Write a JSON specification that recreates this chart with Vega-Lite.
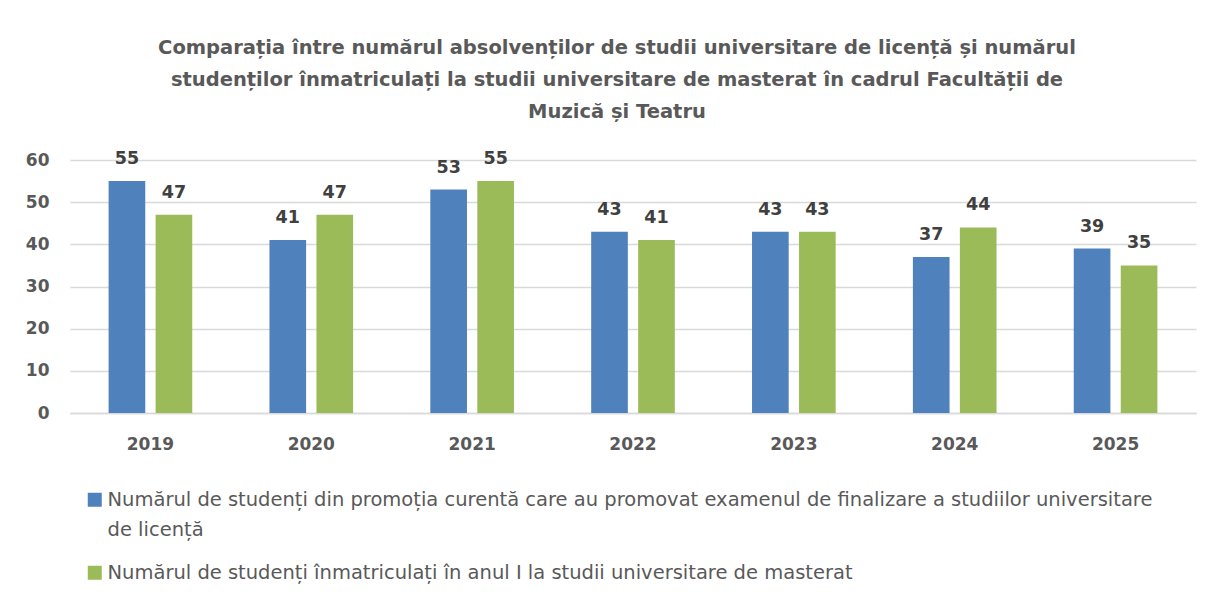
{
  "$schema": "https://vega.github.io/schema/vega-lite/v6.json",
  "width": 1126,
  "height": 253,
  "autosize": "none",
  "padding": {"left": 70, "top": 160, "right": 19, "bottom": 187},
  "background": "white",
  "title": {
    "text": ["Comparația între numărul absolvenților de studii universitare de licență și numărul", "studenților înmatriculați la studii universitare de masterat în cadrul Facultății de", "Muzică și Teatru"],
    "font": "DejaVu Sans",
    "fontSize": 19.5,
    "fontWeight": "bold",
    "color": "#595959",
    "lineHeight": 32,
    "anchor": "middle",
    "dx": -16,
    "offset": 28
  },
  "config": {
    "view": {"stroke": null},
    "font": "DejaVu Sans"
  },
  "data": {
    "values": [
      {"an": "2019", "serie": "Numărul de studenți din promoția curentă care au promovat examenul de finalizare a studiilor universitare de licență", "valoare": 55},
      {"an": "2019", "serie": "Numărul de studenți înmatriculați în anul I la studii universitare de masterat", "valoare": 47},
      {"an": "2020", "serie": "Numărul de studenți din promoția curentă care au promovat examenul de finalizare a studiilor universitare de licență", "valoare": 41},
      {"an": "2020", "serie": "Numărul de studenți înmatriculați în anul I la studii universitare de masterat", "valoare": 47},
      {"an": "2021", "serie": "Numărul de studenți din promoția curentă care au promovat examenul de finalizare a studiilor universitare de licență", "valoare": 53},
      {"an": "2021", "serie": "Numărul de studenți înmatriculați în anul I la studii universitare de masterat", "valoare": 55},
      {"an": "2022", "serie": "Numărul de studenți din promoția curentă care au promovat examenul de finalizare a studiilor universitare de licență", "valoare": 43},
      {"an": "2022", "serie": "Numărul de studenți înmatriculați în anul I la studii universitare de masterat", "valoare": 41},
      {"an": "2023", "serie": "Numărul de studenți din promoția curentă care au promovat examenul de finalizare a studiilor universitare de licență", "valoare": 43},
      {"an": "2023", "serie": "Numărul de studenți înmatriculați în anul I la studii universitare de masterat", "valoare": 43},
      {"an": "2024", "serie": "Numărul de studenți din promoția curentă care au promovat examenul de finalizare a studiilor universitare de licență", "valoare": 37},
      {"an": "2024", "serie": "Numărul de studenți înmatriculați în anul I la studii universitare de masterat", "valoare": 44},
      {"an": "2025", "serie": "Numărul de studenți din promoția curentă care au promovat examenul de finalizare a studiilor universitare de licență", "valoare": 39},
      {"an": "2025", "serie": "Numărul de studenți înmatriculați în anul I la studii universitare de masterat", "valoare": 35}
    ]
  },
  "encoding": {
    "x": {
      "field": "an",
      "type": "nominal",
      "scale": {"paddingInner": 0.48, "paddingOuter": 0.24},
      "axis": {
        "title": null,
        "labelAngle": 0,
        "labelFont": "DejaVu Sans",
        "labelFontSize": 17,
        "labelFontWeight": "bold",
        "labelColor": "#595959",
        "labelPadding": 23,
        "ticks": false,
        "domainColor": "#D9D9D9",
        "domainWidth": 1.5
      }
    },
    "y": {
      "field": "valoare",
      "type": "quantitative",
      "scale": {"domain": [0, 60]},
      "axis": {
        "title": null,
        "values": [0, 10, 20, 30, 40, 50, 60],
        "labelFont": "DejaVu Sans",
        "labelFontSize": 17,
        "labelFontWeight": "bold",
        "labelColor": "#595959",
        "labelPadding": 21,
        "ticks": false,
        "domain": false,
        "gridColor": "#D9D9D9",
        "gridWidth": 1.5
      }
    },
    "xOffset": {
      "field": "serie",
      "type": "nominal",
      "scale": {"paddingInner": 0.22, "paddingOuter": 0}
    }
  },
  "layer": [
    {
      "mark": {"type": "bar"},
      "encoding": {
        "color": {
          "field": "serie",
          "type": "nominal",
          "scale": {"range": ["#4F81BD", "#9BBB59"]},
          "legend": {
            "title": null,
            "orient": "none",
            "legendX": 15,
            "legendY": 330,
            "direction": "vertical",
            "symbolType": "square",
            "symbolSize": 196,
            "symbolStrokeWidth": 0,
            "labelFont": "DejaVu Sans",
            "labelFontSize": 19.5,
            "labelColor": "#595959",
            "labelLimit": 1200,
            "labelOffset": 3,
            "rowPadding": 22,
            "labelExpr": "indexof(datum.label, ' de licență') >= 0 ? [substring(datum.label, 0, indexof(datum.label, ' de licență')), 'de licență'] : datum.label",
            "encode": {"labels": {"update": {"lineHeight": {"value": 30}}}}
          }
        }
      }
    },
    {
      "mark": {"type": "text", "baseline": "alphabetic", "dy": -17, "font": "DejaVu Sans", "fontSize": 17.5, "fontWeight": "bold", "color": "#404040"},
      "encoding": {
        "text": {"field": "valoare", "type": "quantitative"}
      }
    }
  ]
}
